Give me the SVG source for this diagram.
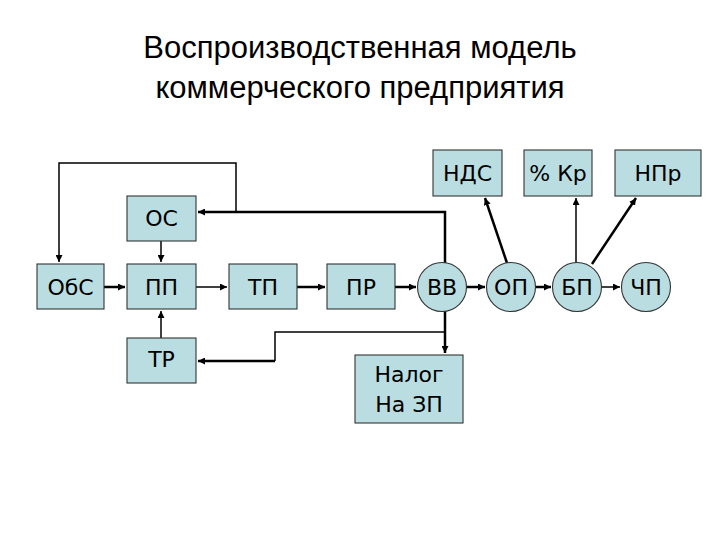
<svg xmlns="http://www.w3.org/2000/svg" width="720" height="540" viewBox="0 0 720 540">
<style>
.n{fill:#b9dde0;stroke:#333;stroke-width:1.1}
.t{font-family:"DejaVu Sans","Liberation Sans",sans-serif;font-size:22px;fill:#000;text-anchor:middle}
.h{font-family:"Liberation Sans",Arial,sans-serif;font-size:31px;fill:#000;text-anchor:middle}
.c{fill:none;stroke:#000;stroke-width:1.5}
.k{stroke-width:2.5}
</style>
<defs><marker id="a" viewBox="0 0 10 10" refX="10" refY="5" markerWidth="7" markerHeight="7" markerUnits="userSpaceOnUse" orient="auto"><path d="M0,0L10,5L0,10z" fill="#000"/></marker></defs>
<rect width="720" height="540" fill="#fff"/>
<text class="h" x="360" y="58">Воспроизводственная модель</text>
<text class="h" x="360" y="98">коммерческого предприятия</text>
<g id="connectors">
<path class="c" d="M236,212V163H59V262" marker-end="url(#a)"/>
<path class="c k" d="M445,263V212H198" marker-end="url(#a)"/>
<path class="c" d="M161,241V262" marker-end="url(#a)"/>
<path class="c k" d="M104,287H125" marker-end="url(#a)"/>
<path class="c" d="M196,287H227" marker-end="url(#a)"/>
<path class="c k" d="M297,287H325" marker-end="url(#a)"/>
<path class="c k" d="M395,287H416" marker-end="url(#a)"/>
<path class="c k" d="M466,287H485" marker-end="url(#a)"/>
<path class="c k" d="M535,287H551" marker-end="url(#a)"/>
<path class="c" d="M601,287H620" marker-end="url(#a)"/>
<path class="c" d="M161,338V311" marker-end="url(#a)"/>
<path class="c k" d="M445,311V353" marker-end="url(#a)"/>
<path class="c" d="M445,332H275V361" />
<path class="c k" d="M275,361H198" marker-end="url(#a)"/>
<path class="c k" d="M507,263L485,198" marker-end="url(#a)"/>
<path class="c" d="M576,263V198" marker-end="url(#a)"/>
<path class="c k" d="M592,264L636,198" marker-end="url(#a)"/>
</g>
<g id="OS"><rect class="n" x="127" y="196" width="69" height="45"/><text class="t" x="161.5" y="226">ОС</text></g>
<g id="ObS"><rect class="n" x="37" y="264" width="67" height="45"/><text class="t" x="70.5" y="295">ОбС</text></g>
<g id="PP"><rect class="n" x="127" y="264" width="69" height="45"/><text class="t" x="161.5" y="295">ПП</text></g>
<g id="TP"><rect class="n" x="229" y="264" width="68" height="45"/><text class="t" x="263" y="295">ТП</text></g>
<g id="PR"><rect class="n" x="327" y="264" width="68" height="45"/><text class="t" x="361" y="295">ПР</text></g>
<g id="TR"><rect class="n" x="127" y="338" width="69" height="45"/><text class="t" x="161.5" y="367">ТР</text></g>
<g id="BB"><circle class="n" cx="442" cy="287" r="24.5"/><text class="t" x="442" y="295">ВВ</text></g>
<g id="OP"><circle class="n" cx="511" cy="287" r="24.5"/><text class="t" x="511" y="295">ОП</text></g>
<g id="BP"><circle class="n" cx="577" cy="287" r="24.5"/><text class="t" x="577" y="295">БП</text></g>
<g id="ChP"><circle class="n" cx="646" cy="287" r="24.5"/><text class="t" x="646" y="295">ЧП</text></g>
<g id="NDS"><rect class="n" x="433" y="150" width="69" height="46"/><text class="t" x="467.5" y="181">НДС</text></g>
<g id="Kr"><rect class="n" x="524" y="150" width="68" height="46"/><text class="t" x="558" y="181">% Кр</text></g>
<g id="NPr"><rect class="n" x="615" y="150" width="86" height="46"/><text class="t" x="658" y="181">НПр</text></g>
<g id="Nalog"><rect class="n" x="355" y="355" width="108" height="68"/><text class="t" x="409" y="382">Налог</text><text class="t" x="409" y="412">На ЗП</text></g>
</svg>
